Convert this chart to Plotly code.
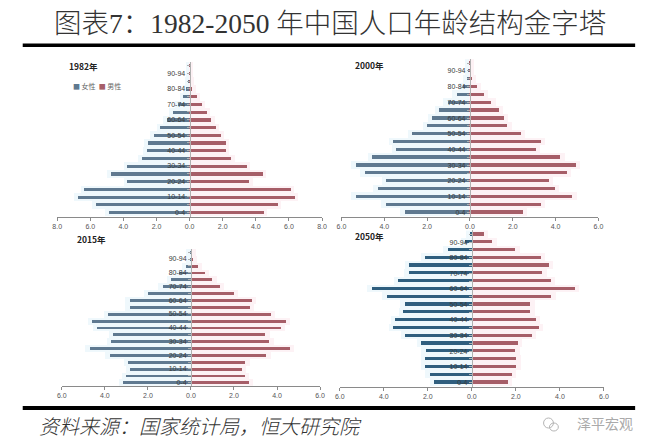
import plotly.graph_objects as go

ages = ["0-4", "5-9", "10-14", "15-19", "20-24", "25-29", "30-34", "35-39", "40-44",
        "45-49", "50-54", "55-59", "60-64", "65-69", "70-74", "75-79", "80-84",
        "85-89", "90-94", "95+"]

female_1982 = [4.88, 5.67, 6.76, 6.35, 3.76, 4.76, 3.76, 2.88, 2.59, 2.53, 2.16, 1.76,
               1.37, 1.02, 0.67, 0.39, 0.20, 0.07, 0.02, 0.005]
male_1982 = [4.51, 5.35, 6.37, 6.13, 3.61, 4.45, 3.47, 2.53, 2.22, 2.20, 1.88, 1.60,
             1.32, 1.06, 0.76, 0.46, 0.18, 0.06, 0.02, 0.005]

female_2000 = [3.03, 3.92, 5.31, 4.29, 3.89, 4.89, 5.31, 4.55, 3.43, 3.58, 2.68, 1.97,
               1.74, 1.43, 1.02, 0.60, 0.30, 0.10, 0.03, 0.01]
male_2000 = [2.49, 3.33, 4.81, 4.00, 3.71, 4.56, 4.96, 4.24, 3.11, 3.33, 2.41, 1.77,
             1.59, 1.36, 1.02, 0.67, 0.35, 0.10, 0.03, 0.01]

female_2015 = [3.15, 3.01, 2.82, 2.94, 3.79, 4.72, 3.73, 3.62, 4.38, 4.60, 3.85, 2.86,
               2.86, 2.01, 1.32, 0.94, 0.55, 0.23, 0.06, 0.02]
male_2015 = [2.69, 2.50, 2.35, 2.52, 3.50, 4.60, 3.63, 3.45, 4.17, 4.41, 3.71, 2.73,
             2.82, 1.98, 1.33, 0.99, 0.64, 0.31, 0.09, 0.02]

female_2050 = [1.71, 1.92, 2.14, 2.14, 2.11, 2.31, 3.04, 3.57, 3.48, 3.12, 3.07, 3.87,
               4.56, 3.36, 2.88, 2.85, 2.14, 1.11, 0.30, 0.08]
male_2050 = [1.63, 1.81, 2.00, 2.01, 1.97, 2.09, 2.70, 3.04, 2.89, 2.64, 2.65, 3.60,
             4.67, 3.57, 3.19, 3.48, 3.11, 1.97, 0.92, 0.53]

panel_titles = ["1982年", "2000年", "2015年", "2050年"]
x_limits = [8, 6, 6, 6]
legend_names = ["女性", "男性"]

W, H = 649, 443
# pixel geometry: (x_left, x_right, y_top, y_bottom, y_range_low)
geom = [
    (53, 322, 61.8, 217.0, -0.60),
    (341.7, 602.7, 59.2, 216.7, -0.56),
    (57.7, 320, 248.7, 385.7, -0.45),
    (340, 608.3, 230.4, 386.7, -0.56),
]
title_pos = [(63, 65.5), (353, 65), (71, 239), (353, 235.5)]

female_data = [female_1982, female_2000, female_2015, female_2050]
male_data = [male_1982, male_2000, male_2015, male_2050]
left_colors = ["#5F7990", "#5F7990", "#5F7990", "#2F5E7E"]
right_color = "#A65E68"

fig = go.Figure()
yidx = list(range(len(ages)))

for i in range(4):
    xa = "x" if i == 0 else f"x{i+1}"
    ya = "y" if i == 0 else f"y{i+1}"
    f = female_data[i]
    m = male_data[i]
    # soft glow
    fig.add_trace(go.Bar(y=yidx, x=[-(v + 0.2) for v in f], orientation="h", width=1.0,
                         marker=dict(color="rgba(225,242,250,0.55)", line=dict(width=0)),
                         xaxis=xa, yaxis=ya, showlegend=False, hoverinfo="skip"))
    fig.add_trace(go.Bar(y=yidx, x=[v + 0.2 for v in m], orientation="h", width=1.0,
                         marker=dict(color="rgba(252,232,236,0.55)", line=dict(width=0)),
                         xaxis=xa, yaxis=ya, showlegend=False, hoverinfo="skip"))
    fig.add_trace(go.Bar(y=yidx, x=[-v for v in f], orientation="h", width=0.42,
                         marker=dict(color=left_colors[i], line=dict(width=0)),
                         name=legend_names[0], xaxis=xa, yaxis=ya, showlegend=False))
    fig.add_trace(go.Bar(y=yidx, x=m, orientation="h", width=0.42,
                         marker=dict(color=right_color, line=dict(width=0)),
                         name=legend_names[1], xaxis=xa, yaxis=ya, showlegend=False))

layout = dict(
    width=W, height=H, margin=dict(l=0, r=0, t=0, b=0),
    paper_bgcolor="white", plot_bgcolor="rgba(0,0,0,0)",
    barmode="overlay", bargap=0,
    font=dict(family="Noto Sans CJK SC, Noto Sans", color="#444"),
)

for i, (x0, x1, yt, yb, ylo) in enumerate(geom):
    lim = x_limits[i]
    tv = list(range(-lim, lim + 1, 2))
    sx = "" if i == 0 else str(i + 1)
    layout["xaxis" + sx] = dict(
        domain=[x0 / W, x1 / W], range=[-lim, lim], anchor="y" + sx,
        tickvals=tv, ticktext=[f"{abs(t):.1f}" for t in tv],
        showgrid=False, zeroline=False, showline=True, linecolor="#8a8a8a", linewidth=1,
        ticks="outside", ticklen=3, tickcolor="#8a8a8a",
        tickfont=dict(size=7, color="#555", family="Liberation Sans, Noto Sans"),
        fixedrange=True,
    )
    layout["yaxis" + sx] = dict(
        domain=[1 - yb / H, 1 - yt / H], range=[ylo, len(ages) - 0.5],
        anchor="free", position=((x0 + x1) / 2) / W,
        tickvals=yidx, ticktext=[a if k % 2 == 0 else "" for k, a in enumerate(ages)],
        showgrid=False, zeroline=False, showline=True, linecolor="#b0b0b0", linewidth=1,
        ticks="outside", ticklen=3, tickcolor="#b0b0b0",
        tickfont=dict(size=7, color="#3a3a3a", family="Liberation Sans, Noto Sans"),
        fixedrange=True,
    )

fig.update_layout(**layout)

annotations = [
    dict(text="图表7：1982-2050 年中国人口年龄结构金字塔", x=330 / W, y=1 - 24 / H,
         xref="paper", yref="paper", showarrow=False, xanchor="center", yanchor="middle",
         font=dict(size=27.5, color="#333", family="Liberation Serif, Noto Sans CJK SC", weight=300)),
    dict(text="资料来源：国家统计局，恒大研究院", x=32 / W, y=1 - 425 / H,
         xref="paper", yref="paper", showarrow=False, xanchor="left", yanchor="middle",
         font=dict(size=20, color="#333", family="Noto Sans CJK SC", style="italic", weight=300)),
    dict(text="泽平宏观", x=640 / W, y=1 - 423 / H,
         xref="paper", yref="paper", showarrow=False, xanchor="right", yanchor="middle",
         font=dict(size=14, color="#aaaaaa", family="Noto Sans CJK SC")),
    dict(text=f'<span style="color:{left_colors[0]}">■</span> {legend_names[0]}  '
              f'<span style="color:{right_color}">■</span> {legend_names[1]}',
         x=67 / W, y=1 - 86 / H, xref="paper", yref="paper", showarrow=False,
         xanchor="left", yanchor="middle", font=dict(size=7, color="#666")),
]
for (tx, ty), t in zip(title_pos, panel_titles):
    annotations.append(dict(text=f"<b>{t}</b>", x=tx / W, y=1 - ty / H, xref="paper", yref="paper",
                            showarrow=False, xanchor="left", yanchor="middle",
                            font=dict(size=8.5, color="#222")))

shapes = [
    dict(type="rect", xref="paper", yref="paper", x0=18 / W, x1=640 / W,
         y0=1 - 47 / H, y1=1 - 43.5 / H, fillcolor="black", line=dict(width=0)),
    dict(type="rect", xref="paper", yref="paper", x0=18 / W, x1=640 / W,
         y0=1 - 410 / H, y1=1 - 406 / H, fillcolor="black", line=dict(width=0)),
    dict(type="circle", xref="paper", yref="paper", x0=547 / W, x1=557 / W,
         y0=1 - 428 / H, y1=1 - 418 / H, line=dict(color="#b5b5b5", width=1)),
    dict(type="circle", xref="paper", yref="paper", x0=553 / W, x1=562 / W,
         y0=1 - 431 / H, y1=1 - 423 / H, line=dict(color="#b5b5b5", width=1)),
]
fig.update_layout(annotations=annotations, shapes=shapes)

fig.write_html("out.html", config={"displayModeBar": False},
               post_script="document.body.style.margin='0';document.body.style.overflow='hidden';")
